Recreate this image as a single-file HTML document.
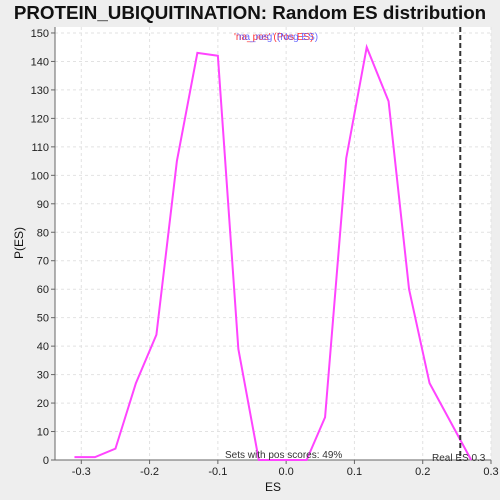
<!DOCTYPE html>
<html><head><meta charset="utf-8"><style>
body{margin:0;background:#eeeeee;}
svg{display:block;font-family:"Liberation Sans",sans-serif;}
</style></head><body>
<svg id="chart" width="500" height="500">
<rect x="0" y="0" width="500" height="500" fill="#eeeeee"/>
<text x="250" y="19" text-anchor="middle" font-size="18.8" font-weight="bold" fill="#111">PROTEIN_UBIQUITINATION: Random ES distribution</text>
<rect x="55" y="27" width="436" height="433" fill="#fff"/>
<g id="grid"></g>
<g id="axes"></g>
<polyline id="line" fill="none" stroke="#ff44ff" stroke-width="2"/>
<line id="realEs" stroke="#333" stroke-width="2" stroke-dasharray="5,3"/>
<text x="234" y="40" font-size="10" fill="#ff3333">'na_pos' (Pos ES)</text>
<text x="237" y="40" font-size="10" fill="#5555ff" opacity="0.85">'na_neg' (Neg ES)</text>
<text x="225" y="458" font-size="10" fill="#333">Sets with pos scores: 49%</text>
<text x="432" y="461" font-size="10" fill="#333">Real ES 0.3</text>
<text x="273" y="491" text-anchor="middle" font-size="12" fill="#111">ES</text>
<text x="23" y="243" text-anchor="middle" font-size="12" fill="#111" transform="rotate(-90 23 243)">P(ES)</text>
</svg>
<script>
const esValues=[-0.31,-0.28,-0.25,-0.22,-0.19,-0.16,-0.13,-0.1,-0.07,-0.04,0.03,0.057,0.088,0.118,0.15,0.18,0.21,0.271];
const pValues=[1,1,4,27,44,105,143,142,39,0,0,15,106,145,126,60,27,0];
const xTicks=[-0.3,-0.2,-0.1,0.0,0.1,0.2,0.3];
const xTickLabels=["-0.3","-0.2","-0.1","0.0","0.1","0.2","0.3"];
const yTicks=[0,10,20,30,40,50,60,70,80,90,100,110,120,130,140,150];
const realES=0.255;
const L=55,R=491,T=27,B=460,xMin=-0.3385,xMax=0.3,yMax=152.1;
const X=v=>L+(v-xMin)/(xMax-xMin)*(R-L);
const Y=v=>B-v/yMax*(B-T);
const ns="http://www.w3.org/2000/svg";
const grid=document.getElementById('grid'),axes=document.getElementById('axes');
function mk(tag,attrs,parent){const e=document.createElementNS(ns,tag);for(const k in attrs)e.setAttribute(k,attrs[k]);parent.appendChild(e);return e;}
xTicks.forEach((t,i)=>{
 const x=X(t);
 const g=mk('line',{x1:x,x2:x,y1:T,y2:B,stroke:'#e2e2e2','stroke-dasharray':'3,3'},grid);
 
 
 const tk=mk('line',{x1:x,x2:x,y1:B,y2:B+4,stroke:'#666'},axes);
 
 
 const tx=mk('text',{x:x,y:B+15,'text-anchor':'middle','font-size':'11',fill:'#222'},axes);
 tx.textContent=xTickLabels[i];
 
 
});
yTicks.forEach(t=>{
 const y=Y(t);
 const g=mk('line',{x1:L,x2:R,y1:y,y2:y,stroke:'#e2e2e2','stroke-dasharray':'3,3'},grid);
 
 
 const tk=mk('line',{x1:L-4,x2:L,y1:y,y2:y,stroke:'#666'},axes);
 
 
 const tx=mk('text',{x:L-6,y:y+4,'text-anchor':'end','font-size':'11',fill:'#222'},axes);
 tx.textContent=String(t);
 
 
});
const ax=mk('path',{d:`M${L},${T}V${B}H${R}`,fill:'none',stroke:'#666'},axes);


document.getElementById('line').setAttribute('points',esValues.map((v,i)=>X(v)+','+Y(pValues[i])).join(' '));
const r=document.getElementById('realEs');
r.setAttribute('x1',X(realES));r.setAttribute('x2',X(realES));r.setAttribute('y1',T);r.setAttribute('y2',B);
</script>
</body></html>
